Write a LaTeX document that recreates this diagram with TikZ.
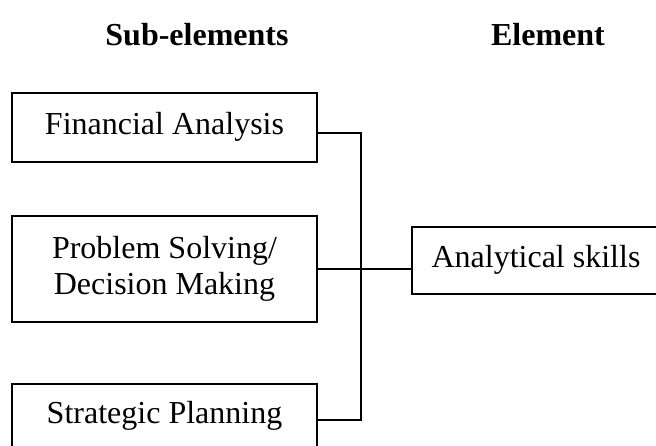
\documentclass[tikz,border=0pt]{standalone}
\usepackage{fontspec}
\setmainfont{Liberation Serif}
\begin{document}
\begin{tikzpicture}[x=1pt,y=-1pt,
  txt/.style={font=\fontsize{32}{36}\selectfont, inner sep=0pt},
  box/.style={txt, draw, line width=1.6pt, align=center,
              text height=22.4pt, text depth=8pt},
  head/.style={txt, font=\fontsize{32}{36}\selectfont\bfseries, anchor=base},
  link/.style={line width=1.6pt}]
  \useasboundingbox (0,0) rectangle (656,446);

  % column headings
  \node[head] (hsub) at (197,46) {Sub-elements};
  \node[head] (hel)  at (548,46) {Element};

  % sub-element boxes
  \node[box, minimum width=305pt, minimum height=69pt]  (fin)   at (164.5,127.5) {Financial Analysis};
  \node[box, minimum width=305pt, minimum height=106pt, text height=58.4pt] (prob) at (164.5,269)
       {Problem Solving/\\Decision Making};
  \node[box, minimum width=305pt, minimum height=72pt, text depth=16.4pt] (strat) at (164.5,420) {Strategic Planning};

  % element box
  \node[box, minimum width=248pt, minimum height=67pt] (ana) at (536,260.5) {Analytical skills};

  % bracket joining the sub-elements
  \coordinate (bus) at (361,0);
  \draw[link] ([yshift=-5.5pt]fin.east) -| (bus |- strat.east) -- (strat.east);
  \draw[link] (prob.east) -- (prob.east -| ana.west);
\end{tikzpicture}
\end{document}
